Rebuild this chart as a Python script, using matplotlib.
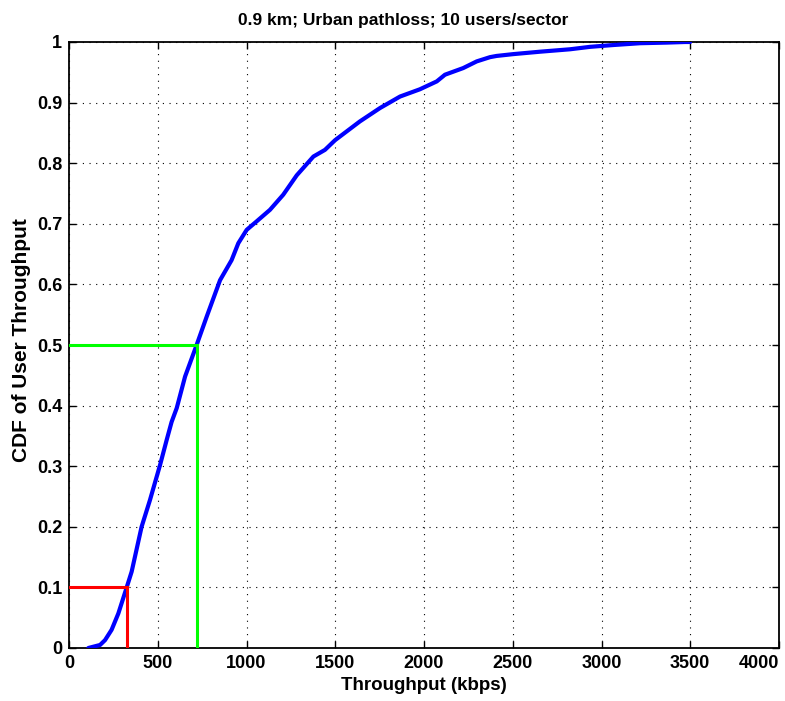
import matplotlib
matplotlib.use("Agg")
import matplotlib.pyplot as plt

plt.rcParams['font.family'] = ['Liberation Sans', 'DejaVu Sans']
plt.rcParams['font.weight'] = 'bold'

# CDF curve (throughput kbps, CDF)
throughput = [109, 175, 203, 240, 278, 325, 353, 409, 456, 513, 550, 578, 607,
              654, 719, 776, 851, 916, 954, 1001, 1057, 1132, 1207, 1283, 1377,
              1442, 1499, 1639, 1752, 1865, 1977, 2072, 2118, 2221, 2297, 2372,
              2409, 2503, 2654, 2823, 2935, 3066, 3217, 3367, 3470, 3499]
cdf = [0.0, 0.005, 0.013, 0.03, 0.057, 0.1, 0.126, 0.2, 0.244, 0.302, 0.343,
       0.373, 0.396, 0.448, 0.5, 0.547, 0.607, 0.640, 0.668, 0.69, 0.704,
       0.723, 0.748, 0.780, 0.811, 0.822, 0.838, 0.869, 0.891, 0.910, 0.922,
       0.935, 0.946, 0.957, 0.968, 0.975, 0.977, 0.980, 0.984, 0.988, 0.992,
       0.995, 0.998, 0.999, 1.0, 1.0]

# percentile markers
p10_x, p10_y = 325, 0.1
p50_x, p50_y = 719, 0.5

xticks = [0, 500, 1000, 1500, 2000, 2500, 3000, 3500, 4000]
yticks = [0, 0.1, 0.2, 0.3, 0.4, 0.5, 0.6, 0.7, 0.8, 0.9, 1]
ytick_labels = ['0', '0.1', '0.2', '0.3', '0.4', '0.5', '0.6', '0.7', '0.8', '0.9', '1']

fig = plt.figure(figsize=(7.85, 7.01), dpi=100)
ax = fig.add_axes([69/785, 1 - 648/701, (779 - 69)/785, (648 - 42)/701])

ax.plot(throughput, cdf, color='#0000ff', lw=3.0, solid_joinstyle='round',
        solid_capstyle='round', zorder=3)
ax.plot([0, p10_x], [p10_y, p10_y], color='#ff0000', lw=2.2, zorder=4)
ax.plot([p10_x, p10_x], [0, p10_y], color='#ff0000', lw=2.2, zorder=4)
ax.plot([0, p50_x], [p50_y, p50_y], color='#00ff00', lw=2.2, zorder=4)
ax.plot([p50_x, p50_x], [0, p50_y], color='#00ff00', lw=2.2, zorder=4)

ax.set_xlim(0, 4000)
ax.set_ylim(0, 1)
ax.set_xticks(xticks)
ax.set_yticks(yticks)
ax.set_yticklabels(ytick_labels)
ax.set_xticklabels([str(t) for t in xticks])
ax.get_xticklabels()[-1].set_horizontalalignment('right')

ax.grid(True, color='black', linestyle=(0, (1, 5)), linewidth=0.8)
ax.tick_params(direction='in', length=5, width=1.0, top=True, right=True,
               labelsize=13, pad=5)
for lab in ax.get_xticklabels() + ax.get_yticklabels():
    lab.set_fontweight('bold')
for s in ax.spines.values():
    s.set_linewidth(1.3)

ax.set_xlabel('Throughput (kbps)', fontsize=13.5, fontweight='bold', labelpad=4)
ax.set_ylabel('CDF of User Throughput', fontsize=15, fontweight='bold')
ax.yaxis.set_label_coords(-0.054, 0.508)
ax.set_title('0.9 km; Urban pathloss; 10 users/sector', fontsize=12.5,
             fontweight='bold', pad=12, x=0.47)

fig.savefig('out.png', dpi=100)
